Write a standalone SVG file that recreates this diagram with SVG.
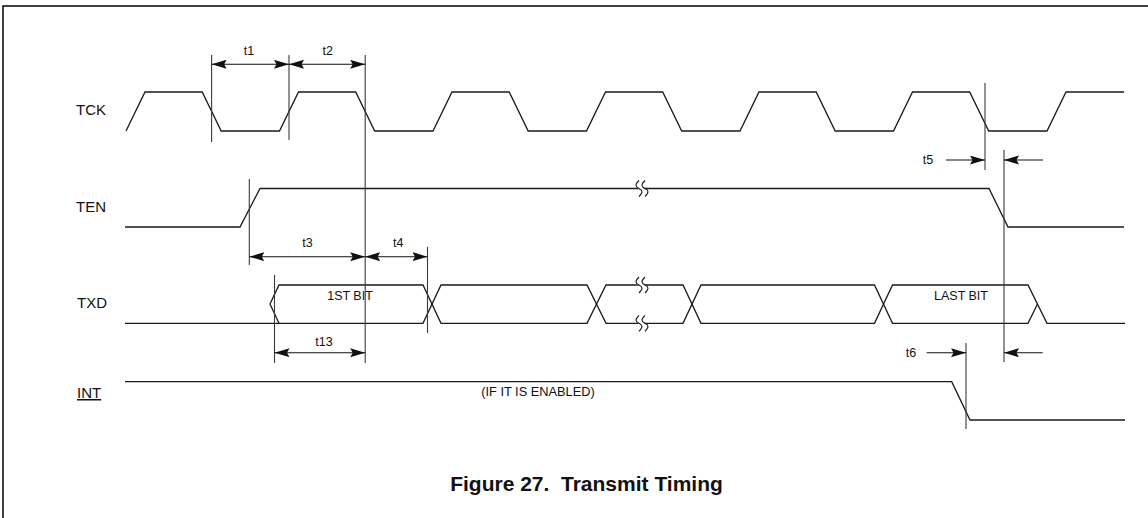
<svg xmlns="http://www.w3.org/2000/svg" width="1148" height="518" viewBox="0 0 1148 518">
<style>
.wave{fill:none;stroke:#1a1a1a;stroke-width:1.3;stroke-linejoin:miter}
.ref{fill:none;stroke:#3a3a3a;stroke-width:1.1}
.dim{fill:none;stroke:#111;stroke-width:1.1}
.sig{font-family:"Liberation Sans",Arial,sans-serif;font-size:15px;fill:#111}
.lbl{font-family:"Liberation Sans",Arial,sans-serif;font-size:12.5px;fill:#111;text-anchor:middle}
.brk{fill:none;stroke:#1a1a1a;stroke-width:1.1}
.title{font-family:"Liberation Sans",Arial,sans-serif;font-size:21px;font-weight:bold;fill:#111;text-anchor:middle}
</style>
<defs>
<marker id="ah" markerUnits="userSpaceOnUse" markerWidth="16" markerHeight="10" refX="15" refY="4.5" orient="auto-start-reverse">
<path d="M0,0 L15,4.5 L0,9 L2.5,4.5 z" fill="#111"/>
</marker>
<g id="brkmark">
<path d="M-5,-8 L1,-8 C-3,-4 -3,-2 1,0 C5,2 5,4 1,8 L-5,8 C-1,4 -1,2 -5,0 C-9,-2 -9,-4 -5,-8 z" fill="#fff" stroke="none"/>
<path d="M-4,-8 C-8,-4 -8,-2 -4,0 C0,2 0,4 -4,8" class="brk"/>
<path d="M2,-8 C-2,-4 -2,-2 2,0 C6,2 6,4 2,8" class="brk"/>
</g>
</defs>
<rect width="1148" height="518" fill="#fff"/>
<rect x="3" y="6" width="1170" height="530" fill="none" stroke="#111" stroke-width="1.6"/>

<g id="TCK">
<text class="sig" x="76" y="115">TCK</text>
<polyline class="wave" points="126,131 145,92 202.2,92 221.2,131 279.5,131 298.5,92 355.7,92 374.7,131 433,131 452,92 509.2,92 528.2,131 586.5,131 605.5,92 662.7,92 681.7,131 740,131 759,92 816.2,92 835.2,131 893.5,131 912.5,92 969.7,92 988.7,131 1047,131 1066,92 1124,92"/>
</g>

<g id="TEN">
<text class="sig" x="76" y="212">TEN</text>
<polyline class="wave" points="125,227 240,227 260,188.5 989,188.5 1008,227 1124,227"/>
<use href="#brkmark" x="643" y="188.5"/>
</g>

<g id="TXD">
<text class="sig" x="77" y="307.5">TXD</text>
<polyline class="wave" points="125,323.3 423,323.3 441,285 587,285 606,323.3 683,323.3 701,285 874.5,285 892.5,323.3 1028,323.3 1037.5,304"/>
<polyline class="wave" points="279,323.3 270,304 279,285 423,285 441,323.3 587,323.3 606,285 683,285 701,323.3 874.5,323.3 892.5,285 1028,285 1047,323.3 1125,323.3"/>
<use href="#brkmark" x="643" y="285"/>
<use href="#brkmark" x="643" y="323.3"/>
<text class="lbl" x="350" y="300">1ST BIT</text>
<text class="lbl" x="961" y="300">LAST BIT</text>
</g>

<g id="INT">
<text class="sig" x="77" y="398" text-decoration="underline">INT</text>
<polyline class="wave" points="125,381.7 951.7,381.7 970,420 1125,420"/>
<text class="lbl" x="538" y="395.5" style="font-size:12.8px">(IF IT IS ENABLED)</text>
</g>

<g id="connectors">
<line class="ref" x1="211.6" y1="55" x2="211.6" y2="142"/>
<line class="ref" x1="289" y1="55" x2="289" y2="140"/>
<line class="ref" x1="365.2" y1="55" x2="365.2" y2="363"/>
<line class="ref" x1="249.3" y1="179" x2="249.3" y2="265"/>
<line class="ref" x1="427.5" y1="246.7" x2="427.5" y2="333"/>
<line class="ref" x1="274.5" y1="275" x2="274.5" y2="363"/>
<line class="ref" x1="985" y1="83" x2="985" y2="170"/>
<line class="ref" x1="1004" y1="150" x2="1004" y2="362"/>
<line class="ref" x1="966" y1="343" x2="966" y2="429"/>

<line class="dim" x1="211.6" y1="64.3" x2="289" y2="64.3" marker-start="url(#ah)" marker-end="url(#ah)"/>
<line class="dim" x1="289" y1="64.3" x2="365.2" y2="64.3" marker-start="url(#ah)" marker-end="url(#ah)"/>
<line class="dim" x1="249.3" y1="256.7" x2="365.2" y2="256.7" marker-start="url(#ah)" marker-end="url(#ah)"/>
<line class="dim" x1="365.2" y1="256.7" x2="427.5" y2="256.7" marker-start="url(#ah)" marker-end="url(#ah)"/>
<line class="dim" x1="274.5" y1="352.7" x2="365.2" y2="352.7" marker-start="url(#ah)" marker-end="url(#ah)"/>
<line class="dim" x1="946" y1="160" x2="985" y2="160" marker-end="url(#ah)"/>
<line class="dim" x1="1043" y1="160" x2="1004" y2="160" marker-end="url(#ah)"/>
<line class="dim" x1="926.7" y1="352.7" x2="966" y2="352.7" marker-end="url(#ah)"/>
<line class="dim" x1="1042.7" y1="352.7" x2="1004" y2="352.7" marker-end="url(#ah)"/>

<text class="lbl" x="249" y="55">t1</text>
<text class="lbl" x="327.7" y="55">t2</text>
<text class="lbl" x="307.5" y="247">t3</text>
<text class="lbl" x="398.3" y="247">t4</text>
<text class="lbl" x="324" y="346">t13</text>
<text class="lbl" x="928" y="163.5">t5</text>
<text class="lbl" x="911" y="357">t6</text>
</g>

<text class="title" x="586.5" y="491" xml:space="preserve">Figure 27.  Transmit Timing</text>
</svg>
